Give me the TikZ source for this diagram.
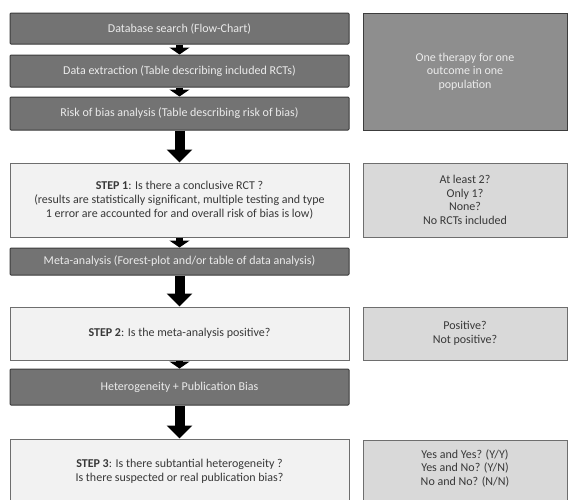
\documentclass[tikz,border=0pt]{standalone}
\usepackage{fontspec}
\setmainfont{Carlito}
\usepackage{xcolor}
\usepackage{tikz}
\usetikzlibrary{arrows.meta}

\definecolor{darkfill}{HTML}{737373}
\definecolor{darkline}{HTML}{3C3C3C}
\definecolor{midfill}{HTML}{8E8E8E}
\definecolor{lightfill}{HTML}{F2F2F2}
\definecolor{greyfill}{HTML}{D9D9D9}
\definecolor{boxline}{HTML}{6E6E6E}
\definecolor{inktext}{HTML}{383838}

\begin{document}
\begin{tikzpicture}[x=1pt, y=-1pt,
    darkbox/.style={draw=darkline, fill=darkfill, line width=1pt, rounded corners=1pt, inner sep=0pt,
        minimum width=339pt, text=white!92!black, font=\fontsize{12}{14}\selectfont, align=center},
    stepbox/.style={draw=boxline, fill=lightfill, line width=1pt, inner sep=0pt,
        minimum width=339pt, text=inktext, font=\fontsize{12}{14}\selectfont, align=center},
    sidebox/.style={draw=boxline, fill=greyfill, line width=1pt, inner sep=0pt,
        minimum width=204pt, text=inktext, font=\fontsize{12}{13.5}\selectfont, align=center},
    smallarrow/.style={line width=7pt, -{Triangle[width=20pt, length=7pt]}},
    bigarrow/.style={line width=10pt, -{Triangle[width=25pt, length=13pt]}}]
    \useasboundingbox (0,0) rectangle (573,499);
    \clip (0,0) rectangle (573,499);
    \fill[white] (0,0) rectangle (573,499);

    \node[darkbox, minimum height=31pt] (search) at (179.5,28.5) {Database search (Flow-Chart)};
    \node[darkbox, minimum height=32pt] (extract) at (179.5,71) {Data extraction (Table describing included RCTs)};
    \node[darkbox, minimum height=33pt] (bias) at (179.5,113.5) {Risk of bias analysis (Table describing risk of bias)};
    \node[stepbox, minimum height=74pt] (step1) at (179.5,200) {\textbf{STEP 1}: Is there a conclusive RCT ?\\(results are statistically significant, multiple testing and type\\1 error are accounted for and overall risk of bias is low)};
    \node[darkbox, minimum height=27pt] (meta) at (179.5,261.5) {Meta-analysis (Forest-plot and/or table of data analysis)};
    \node[stepbox, minimum height=53pt] (step2) at (179.5,333.5) {\textbf{STEP 2}: Is the meta-analysis positive?};
    \node[darkbox, minimum height=36pt] (hetero) at (179.5,387) {Heterogeneity + Publication Bias};
    \node[stepbox, minimum height=64pt] (step3) at (179.5,471) {\textbf{STEP 3}: Is there subtantial heterogeneity ?\\Is there suspected or real publication bias?};

    \node[sidebox, fill=midfill, draw=darkline, text=white!92!black, minimum height=117pt] (scope) at (465,71.5) {One therapy for one\\outcome in one\\population};
    \node[sidebox, minimum height=74pt] (count) at (465,200) {At least 2?\\Only 1?\\None?\\No RCTs included};
    \node[sidebox, minimum height=53pt] (sign) at (465,333.5) {Positive?\\Not positive?};
    \node[sidebox, minimum height=74pt] (combo) at (465,477) {Yes and Yes? (Y/Y)\\Yes and No? (Y/N)\\No and No? (N/N)\\[6pt]};

    \draw[smallarrow] (search) -- (extract);
    \draw[smallarrow] (extract) -- (bias);
    \draw[bigarrow] (bias) -- (step1);
    \draw[smallarrow] (step1) -- (meta);
    \draw[bigarrow] (meta) -- (step2);
    \draw[smallarrow] (step2) -- (hetero);
    \draw[bigarrow] (hetero) -- (step3);
\end{tikzpicture}
\end{document}
